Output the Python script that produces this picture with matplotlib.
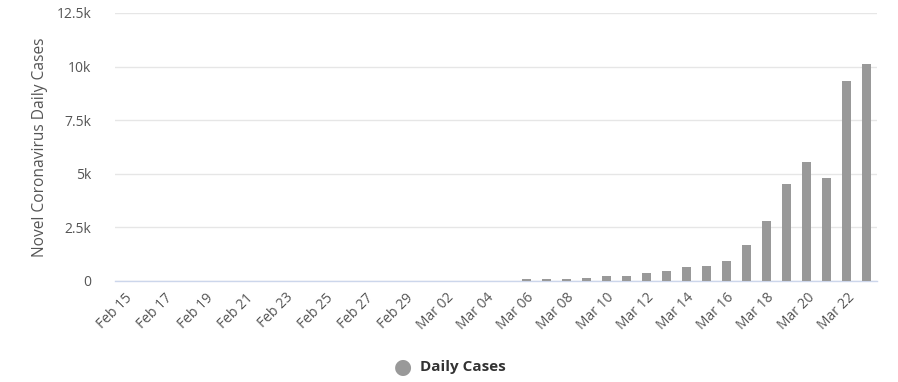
import matplotlib
matplotlib.use("Agg")
import matplotlib.pyplot as plt
import numpy as np
from matplotlib.ticker import FuncFormatter, MultipleLocator

plt.rcParams['font.family'] = ['Open Sans', 'DejaVu Sans']

dates = (["Feb %02d" % d for d in range(15, 30)] +
         ["Mar %02d" % d for d in range(1, 24)])
daily_cases = [0] * 20 + [60, 60, 60, 125, 235, 235, 360, 470, 640, 700,
                          935, 1680, 2800, 4500, 5550, 4800, 9310, 10140]
tick_labels = dates[::2]
series_name = "Daily Cases"

W, H = 898, 382
fig = plt.figure(figsize=(W / 100, H / 100), dpi=100)
ax = fig.add_axes([115 / W, 1 - 280.6 / H, (877 - 115) / W, (280.6 - 13) / H])

x = np.arange(len(dates))
ax.bar(x, daily_cases, width=0.45, color='#999999', zorder=3)
ax.set_xlim(-0.5, len(dates) - 0.5)
ax.set_ylim(0, 12500)
ax.yaxis.set_major_locator(MultipleLocator(2500))

def fmt(v, pos):
    if v == 0:
        return "0"
    k = v / 1000
    return ("%gk" % k)
ax.yaxis.set_major_formatter(FuncFormatter(fmt))

ax.set_xticks(x[::2])
ax.set_xticklabels(tick_labels, rotation=45, ha='right', rotation_mode='anchor')

for s in ['top', 'right', 'left']:
    ax.spines[s].set_visible(False)
ax.spines['bottom'].set_color('#ccd6eb')
ax.spines['bottom'].set_linewidth(1.0)
ax.grid(axis='y', color='#e6e6e6', linewidth=1.0, zorder=0)
ax.tick_params(axis='both', length=0, labelcolor='#555555', labelsize=10)
ax.tick_params(axis='y', pad=17)
ax.tick_params(axis='x', pad=7)

ax.set_ylabel("Novel Coronavirus Daily Cases", color='#555555', fontsize=11.2, labelpad=6)

# legend
fig.text(403 / W, 1 - 367 / H, "\u25CF", color='#999999', fontsize=15,
         ha='center', va='center', family='DejaVu Sans')
fig.text(420 / W, 1 - 367 / H, series_name, color='#333333', fontsize=11,
         fontweight='bold', ha='left', va='center')

fig.savefig("out.png", dpi=100)
